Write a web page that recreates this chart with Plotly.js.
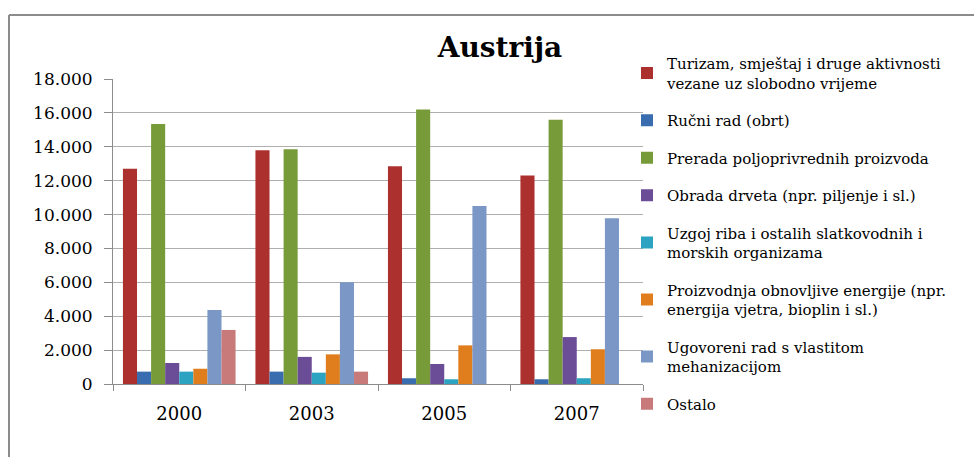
<!DOCTYPE html>
<html>
<head>
<meta charset="utf-8">
<script src="https://cdn.plot.ly/plotly-3.0.1.min.js"></script>
<style>html,body{margin:0;padding:0;background:#fff;}#chart{width:974px;height:457px;}</style>
</head>
<body>
<div id="chart"></div>
<script>
const years = ['2000', '2003', '2005', '2007'];
const seriesNames = [
  'Turizam, smještaj i druge aktivnosti<br>vezane uz slobodno vrijeme',
  'Ručni rad (obrt)',
  'Prerada poljoprivrednih proizvoda',
  'Obrada drveta (npr. piljenje i sl.)',
  'Uzgoj riba i ostalih slatkovodnih i<br>morskih organizama',
  'Proizvodnja obnovljive energije (npr.<br>energija vjetra, bioplin i sl.)',
  'Ugovoreni rad s vlastitom<br>mehanizacijom',
  'Ostalo'
];
const turizam = [12700, 13800, 12850, 12300];
const rucniRad = [730, 730, 340, 280];
const prerada = [15350, 13850, 16200, 15600];
const obradaDrveta = [1240, 1600, 1180, 2770];
const uzgojRiba = [730, 670, 280, 340];
const obnovljivaEnergija = [900, 1750, 2280, 2050];
const ugovoreniRad = [4370, 6000, 10500, 9780];
const ostalo = [3190, 730, 0, 0];
const yTickVals = [0, 2000, 4000, 6000, 8000, 10000, 12000, 14000, 16000, 18000];
const yTickText = ['0', '2.000', '4.000', '6.000', '8.000', '10.000', '12.000', '14.000', '16.000', '18.000'];

const allValues = [turizam, rucniRad, prerada, obradaDrveta, uzgojRiba, obnovljivaEnergija, ugovoreniRad, ostalo];
const colors = ['#AC302E', '#3A6DB0', '#789B3A', '#6B4C96', '#2CA3C0', '#E07E1E', '#7A97C6', '#C8797A'];

const traces = allValues.map((vals, i) => ({
  type: 'bar',
  x: years,
  y: vals,
  name: seriesNames[i],
  legendgroup: 'g' + i,
  marker: {color: colors[i], line: {width: 0}},
  hoverinfo: 'x+y+name'
}));

const layout = {
  width: 974,
  height: 457,
  paper_bgcolor: '#ffffff',
  plot_bgcolor: '#ffffff',
  margin: {l: 113, r: 331, t: 79, b: 73},
  barmode: 'group',
  bargap: 0.15,
  bargroupgap: 0,
  title: {
    text: '<b>Austrija</b>',
    font: {family: 'DejaVu Serif', size: 28, color: '#000'},
    x: 500 / 974, xanchor: 'center',
    y: 1 - 47 / 457, yanchor: 'middle'
  },
  xaxis: {
    type: 'category',
    showgrid: false,
    showline: true,
    linecolor: '#8C8C8C',
    linewidth: 1,
    ticks: 'outside',
    tickson: 'boundaries',
    ticklen: 6,
    tickcolor: '#8C8C8C',
    tickfont: {family: 'DejaVu Serif', size: 18, color: '#000'},
    ticklabelstandoff: 13,
    zeroline: false
  },
  yaxis: {
    range: [0, 18000],
    tickvals: yTickVals,
    ticktext: yTickText,
    showgrid: true,
    gridcolor: '#AFAFAF',
    gridwidth: 1,
    showline: true,
    linecolor: '#8C8C8C',
    linewidth: 1,
    ticks: 'outside',
    ticklen: 8,
    tickcolor: '#8C8C8C',
    tickfont: {family: 'DejaVu Serif', size: 17, color: '#000'},
    ticklabelstandoff: 8,
    zeroline: false
  },
  legend: {
    x: (627 - 113) / 530,
    xanchor: 'left',
    y: (384 - 47) / 305,
    yanchor: 'top',
    font: {family: 'DejaVu Serif', size: 15, color: '#000'},
    tracegroupgap: 15,
    itemwidth: 30,
    maxheight: 1,
    bgcolor: 'rgba(0,0,0,0)'
  },
  shapes: [
    {type: 'line', xref: 'paper', yref: 'paper', x0: -104 / 530, x1: 2, y0: (384 - 15) / 305, y1: (384 - 15) / 305, line: {color: '#8C8C8C', width: 2}},
    {type: 'line', xref: 'paper', yref: 'paper', x0: -104 / 530, x1: -104 / 530, y0: (384 - 15) / 305, y1: -2, line: {color: '#8C8C8C', width: 2}}
  ],
  showlegend: true
};

Plotly.newPlot('chart', traces, layout, {displayModeBar: false, staticPlot: true});
</script>
</body>
</html>
